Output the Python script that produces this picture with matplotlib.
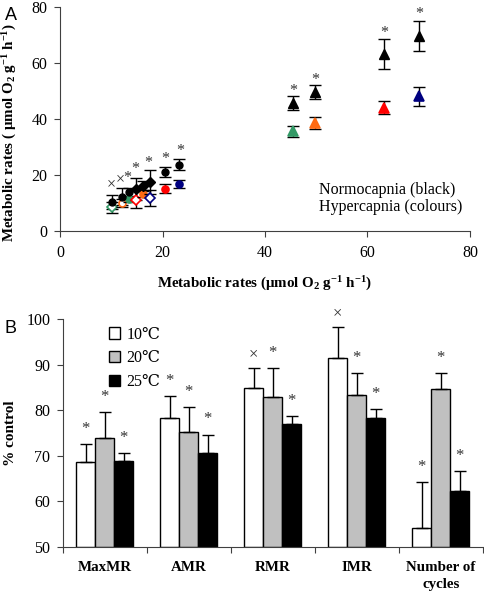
import matplotlib.pyplot as plt
from matplotlib.patches import Patch

plt.rcParams['font.family'] = ['Liberation Serif', 'DejaVu Serif']
plt.rcParams['mathtext.fontset'] = 'custom'
plt.rcParams['mathtext.rm'] = 'Liberation Serif'
plt.rcParams['mathtext.bf'] = 'Liberation Serif:bold'
plt.rcParams['mathtext.it'] = 'Liberation Serif:italic'

GREEN = '#339966'
ORANGE = '#ff6a13'
RED = '#ff0000'
NAVY = '#000080'

# Panel A: normocapnia (black) vs hypercapnia (colours)
x_rates = [10.1, 12.1, 13.5, 14.8, 16.1, 17.6, 20.4, 23.2, 45.5, 49.8, 63.3, 70.0]
norm = [10.2, 12.3, 13.8, 14.9, 16.2, 17.4, 21.0, 23.6, 45.6, 49.7, 63.1, 69.6]
norm_err = [2.5, 2.9, 1.5, 4.0, 1.5, 4.2, 1.9, 1.9, 2.6, 2.5, 5.2, 5.4]
norm_markers = ['o', 'o', 'o', 'D', 'D', 'D', 'o', 'o', '^', '^', '^', '^']
hyper = [8.5, 10.1, 11.4, 11.1, 13.2, 11.7, 15.0, 16.8, 35.5, 38.5, 44.0, 48.0]
hyper_err = [2.0, 1.5, 1.0, 3.0, 1.0, 2.8, 1.6, 1.3, 2.1, 2.2, 2.2, 3.5]
hyper_colors = [GREEN, ORANGE, GREEN, RED, ORANGE, NAVY, RED, NAVY, GREEN, ORANGE, RED, NAVY]
hyper_markers = ['D', 'o', 'o', 'D', 'o', 'D', 'o', 'o', '^', '^', '^', '^']
hyper_filled = [False, False, True, False, True, False, True, True, True, True, True, True]
sig_x = [10.0, 11.7, 13.1, 14.6, 17.2, 20.5, 23.4, 45.5, 49.8, 63.3, 70.0]
sig_y = [16.7, 18.5, 20.6, 23.8, 26.0, 27.5, 30.4, 51.8, 55.7, 72.4, 78.9]
sig_marks = ['×', '×', '*', '*', '*', '*', '*', '*', '*', '*', '*']

# Panel B: % control
groups = ['MaxMR', 'AMR', 'RMR', 'IMR', 'Number of\ncycles']
temps = ['10℃', '20℃', '25℃']
pct_10 = [68.5, 78.3, 84.8, 91.4, 54.2]
pct_20 = [73.8, 75.2, 82.9, 83.2, 84.6]
pct_25 = [68.9, 70.6, 76.9, 78.3, 62.3]
err_10 = [4.0, 4.8, 4.4, 6.9, 10.0]
err_20 = [5.8, 5.5, 6.3, 4.9, 3.5]
err_25 = [1.6, 4.0, 1.8, 1.9, 4.3]
marks_10 = ['*', '*', '×', '×', '*']
marks_20 = ['*', '*', '*', '*', '*']
marks_25 = ['*', '*', '*', '*', '*']

SPINE = '#404040'
fig = plt.figure(figsize=(4.84, 5.94), dpi=100)

# ---------------- A
axA = fig.add_axes([0.124, 0.611, 0.847, 0.378])
for i in range(len(x_rates)):
    ms = 7 if norm_markers[i] == '^' else 5
    axA.errorbar(x_rates[i], norm[i], yerr=norm_err[i], fmt=norm_markers[i],
                 color='black', ms=ms, capsize=4, elinewidth=1, capthick=1)
    c = hyper_colors[i]
    axA.errorbar(x_rates[i], hyper[i], yerr=hyper_err[i], fmt='none',
                 ecolor='black', capsize=4, elinewidth=1, capthick=1)
    axA.plot(x_rates[i], hyper[i], hyper_markers[i], ms=ms, color=c,
             mfc=c if hyper_filled[i] else 'white', mew=1.2)
for x, y, m in zip(sig_x, sig_y, sig_marks):
    axA.annotate(m, (x, y), xytext=(0, -3.5 if m == '*' else 0), textcoords='offset points',
                 ha='center', va='center', fontsize=11.5, color='#333333')

axA.text(50.5, 11.6, 'Normocapnia (black)\nHypercapnia (colours)', fontsize=11.5,
         va='center', linespacing=1.15)
axA.set_xlim(0, 80)
axA.set_ylim(0, 80)
axA.set_xticks([0, 20, 40, 60, 80])
axA.set_yticks([0, 20, 40, 60, 80])
axA.spines['top'].set_visible(False)
axA.spines['right'].set_visible(False)
for s in ['left', 'bottom']:
    axA.spines[s].set_color(SPINE)
axA.tick_params(labelsize=11.5, length=4, width=0.8, color=SPINE)
axA.tick_params(axis='x', pad=6)
axA.tick_params(axis='y', pad=5)
axA.set_xlabel(r'Metabolic rates (μmol O$_\mathbf{2}$ g$^{\mathbf{-1}}$ h$^{\mathbf{-1}}$)',
               fontsize=10.8, fontweight='bold', labelpad=10)
axA.set_ylabel(r'Metabolic rates ( μmol O$_\mathbf{2}$ g$^{\mathbf{-1}}$ h$^{\mathbf{-1}}$)',
               fontsize=10.8, fontweight='bold')
axA.yaxis.set_label_coords(-0.1, 0.44)
fig.text(0.01, 0.989, 'A', family='Liberation Sans', fontsize=13, va='top')

# ---------------- B
axB = fig.add_axes([0.1295, 0.0796, 0.868, 0.3834])
w = 0.226
pos = list(range(len(groups)))
series = [(pct_10, err_10, marks_10, 'white', -w),
          (pct_20, err_20, marks_20, '#c0c0c0', 0),
          (pct_25, err_25, marks_25, 'black', w)]
for vals, errs, marks, col, off in series:
    xs = [p + off for p in pos]
    axB.bar(xs, [v - 50 for v in vals], bottom=50, width=w, color=col,
            edgecolor='black', linewidth=1)
    axB.errorbar(xs, vals, yerr=[[0] * len(vals), errs], fmt='none', ecolor='black',
                 capsize=4, elinewidth=1, capthick=1)
    for x, v, e, m in zip(xs, vals, errs, marks):
        axB.annotate(m, (x, v + e), xytext=(0, 11 if m == '*' else 10),
                     textcoords='offset points', ha='center', va='center',
                     fontsize=12, color='#333333', annotation_clip=False)

axB.set_xlim(-0.5, 4.5)
axB.set_ylim(50, 100)
axB.set_yticks([50, 60, 70, 80, 90, 100])
axB.set_xticks(pos)
axB.set_xticklabels(groups, fontweight='bold', fontsize=10.8, linespacing=1.45)
axB.set_xticks([p + 0.5 for p in [-1] + pos], minor=True)
axB.tick_params(axis='x', which='major', length=0, pad=10)
axB.tick_params(axis='x', which='minor', length=4, width=0.8, color=SPINE)
axB.tick_params(axis='y', labelsize=11.5, length=4, width=0.8, color=SPINE, pad=5)
axB.spines['top'].set_visible(False)
axB.spines['right'].set_visible(False)
for s in ['left', 'bottom']:
    axB.spines[s].set_color(SPINE)
axB.set_ylabel('% control', fontsize=11, fontweight='bold')
axB.yaxis.set_label_coords(-0.108, 0.5)
handles = [Patch(facecolor=c, edgecolor='black') for c in ['white', '#c0c0c0', 'black']]
axB.legend(handles, temps, loc='upper left', bbox_to_anchor=(0.095, 0.995), frameon=False,
           fontsize=11.5, handlelength=0.7, handleheight=0.7, handletextpad=0.4,
           labelspacing=0.5, borderaxespad=0)
fig.text(0.01, 0.462, 'B', family='Liberation Sans', fontsize=13, va='top')

fig.savefig('out.png', dpi=100)
